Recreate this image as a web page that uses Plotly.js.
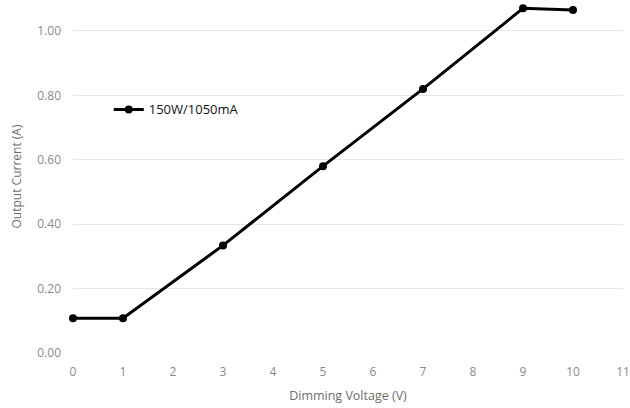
<!DOCTYPE html>
<html><head><meta charset="utf-8">
<script src="https://cdn.plot.ly/plotly-3.0.1.min.js"></script>
<style>html,body{margin:0;padding:0;background:#fff}#c{width:630px;height:408px}</style>
</head><body><div id="c"></div>
<script>
var voltage = [0, 1, 3, 5, 7, 9, 10];
var current = [0.108, 0.108, 0.334, 0.58, 0.82, 1.07, 1.065];
var seriesName = '150W/1050mA';
var yTicks = [0, 0.2, 0.4, 0.6, 0.8, 1.0];
var yTickText = ['0.00', '0.20', '0.40', '0.60', '0.80', '1.00'];
var xTicks = [0,1,2,3,4,5,6,7,8,9,10,11];

var trace = {
  x: voltage, y: current, name: seriesName, type: 'scatter', mode: 'lines+markers',
  line: {color: '#000', width: 3}, marker: {color: '#000', size: 8},
  cliponaxis: false
};
var layout = {
  width: 630, height: 408,
  margin: {l: 73, r: 7, t: 0, b: 55},
  paper_bgcolor: '#fff', plot_bgcolor: '#fff',
  font: {family: 'Open Sans, sans-serif', color: '#888'},
  showlegend: true,
  legend: {x: 0.065, y: 0.69, xanchor: 'left', yanchor: 'middle', font: {size: 13, color: '#111'}, bgcolor: 'rgba(0,0,0,0)'},
  xaxis: {range: [0, 11], tickvals: xTicks, showgrid: false, zeroline: false, showline: false,
    ticks: '', tickfont: {size: 12, color: '#8a8a8a'}, ticklabelstandoff: 10,
    title: {text: 'Dimming Voltage (V)', font: {size: 12.5, color: '#6e6e6e'}, standoff: 12}},
  yaxis: {range: [0, 1.096], tickvals: yTicks, ticktext: yTickText, showgrid: true, gridcolor: '#e6e6e6',
    zeroline: false, showline: false, ticks: '', tickfont: {size: 12, color: '#8a8a8a'}, ticklabelstandoff: 11,
    title: {text: 'Output Current (A)', font: {size: 12, color: '#6e6e6e'}, standoff: 13}}
};
Plotly.newPlot('c', [trace], layout, {staticPlot: true});
</script></body></html>
